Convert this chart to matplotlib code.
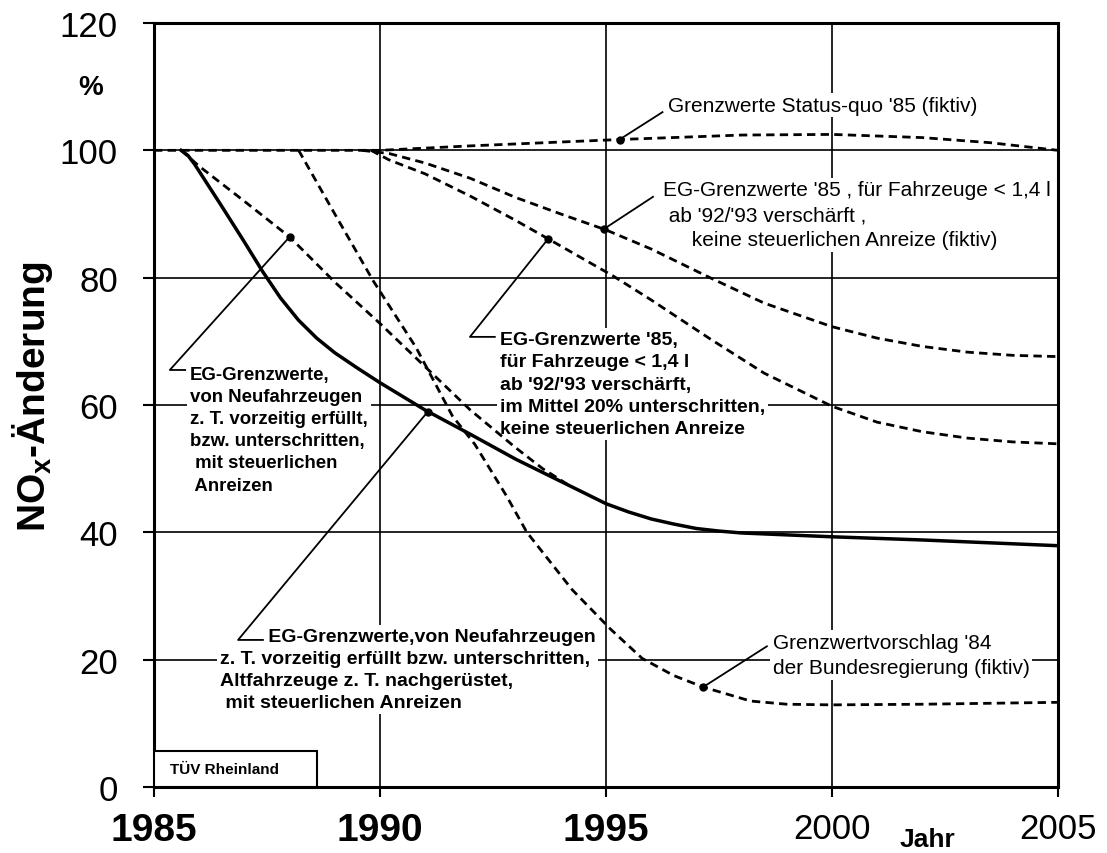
import numpy as np
import matplotlib
matplotlib.use('Agg')
import matplotlib.pyplot as plt
from matplotlib.patches import Rectangle

plt.rcParams['font.family'] = ['Liberation Sans', 'DejaVu Sans']
plt.rcParams['mathtext.fontset'] = 'custom'
plt.rcParams['mathtext.bf'] = 'Liberation Sans:bold'
plt.rcParams['mathtext.rm'] = 'Liberation Sans'

# values (year, NOx change in %)
solid_x = [1985.6, 1985.75, 1985.9, 1986.2, 1986.5, 1987.0, 1987.4, 1987.8, 1988.2, 1988.6,
           1989.0, 1989.5, 1990.0, 1991.0, 1992.0, 1993.0, 1994.0, 1995.0, 1995.5, 1996.0,
           1996.5, 1997.0, 1997.5, 1998.0, 2000.0, 2002.0, 2005.0]
solid_y = [100, 99.2, 97.8, 94.5, 91.2, 85.6, 81, 76.8, 73.3, 70.5,
           68.2, 65.8, 63.5, 59.2, 55.4, 51.5, 48, 44.5, 43.2, 42.1,
           41.3, 40.6, 40.2, 39.9, 39.3, 38.8, 37.9]

neu_x = [1985.6, 1986.0, 1987.0, 1988.0, 1989.0, 1990.0, 1991.0, 1992.0, 1993.0, 1993.6, 1994.2]
neu_y = [100, 97.5, 92, 86.4, 79.3, 72.8, 66, 59.2, 53.3, 50, 47.3]

vorschlag_x = [1988.2, 1989.0, 1989.85, 1990.8, 1991.6, 1992.1, 1992.8, 1993.25, 1994.25, 1995.1,
               1995.8, 1996.5, 1997.15, 1998.2, 1999.0, 2000.0, 2002.0, 2005.0]
vorschlag_y = [100, 90, 79.5, 69, 58.3, 53.8, 45.7, 40, 31, 24.8,
               20.2, 17.5, 15.7, 13.5, 13.0, 12.9, 13.0, 13.3]

mittel_x = [1989.8, 1990.2, 1991.0, 1992.0, 1993.0, 1993.72, 1995.15, 1996.0, 1997.3, 1998.5,
            2000.0, 2001.0, 2002.0, 2003.0, 2004.0, 2005.0]
mittel_y = [100, 98.5, 96.3, 92.8, 89, 86.1, 80.3, 76.5, 70.4, 65,
            59.8, 57.3, 55.8, 54.8, 54.2, 53.9]

keine_x = [1989.6, 1990.2, 1991.0, 1992.0, 1993.0, 1994.0, 1995.0, 1996.0, 1997.3, 1998.5,
           2000.0, 2001.0, 2002.0, 2003.0, 2004.0, 2005.0]
keine_y = [100, 99.5, 98, 95.6, 92.6, 90, 87.5, 84.5, 80, 76,
           72.3, 70.5, 69.2, 68.3, 67.8, 67.6]

status_x = [1985.0, 1990.0, 1992.0, 1995.3, 1998.0, 2000.0, 2002.0, 2003.5, 2004.5, 2005.0]
status_y = [100, 100, 100.7, 101.7, 102.4, 102.5, 102.0, 101.2, 100.4, 100]

year_ticks = [1985, 1990, 1995, 2000, 2005]
pct_ticks = [0, 20, 40, 60, 80, 100, 120]

fig = plt.figure(figsize=(11.07, 8.54), dpi=100)
ax = fig.add_axes([154/1107, 1-788/854, 904/1107, 764/854])
ax.set_xlim(1985, 2005)
ax.set_ylim(0, 120)

for s in ax.spines.values():
  s.set_linewidth(2.2)

ax.set_xticks(year_ticks)
ax.set_yticks(pct_ticks)
ax.tick_params(axis='y', direction='out', length=8, width=1.5, pad=18, labelsize=25)
ax.tick_params(axis='x', direction='out', length=7, width=1.5, pad=11, labelsize=25)
ax.set_xticklabels([str(y) for y in year_ticks])
for lab in ax.get_xticklabels():
  if int(lab.get_text()) < 2000:
    lab.set_fontweight('bold')
    lab.set_fontsize(28)
ax.grid(True, color='black', linewidth=1.2)
ax.set_axisbelow(True)

dash = dict(color='black', linewidth=2.0, linestyle=(0, (3.0, 1.9)), zorder=4)
ax.plot(status_x, status_y, **dash)
ax.plot(keine_x, keine_y, **dash)
ax.plot(mittel_x, mittel_y, **dash)
ax.plot(vorschlag_x, vorschlag_y, **dash)
ax.plot(neu_x, neu_y, **dash)
ax.plot(solid_x, solid_y, color='black', linewidth=2.5, zorder=4)

# axis labels
fig.text(33/1107, 1-397/854, r'NO$_{\mathbf{x}}$-Änderung', rotation=90, fontsize=28,
         fontweight='bold', ha='center', va='center')
fig.text(91/1107, 1-88/854, '%', fontsize=20, fontweight='bold', ha='center', va='center')
fig.text(927/1107, 1-840/854, 'Jahr', fontsize=19, fontweight='bold', ha='center', va='center')

box = dict(facecolor='white', edgecolor='none', pad=2)

def note(x, y, text, weight, size):
  ax.text(x, y, text, fontsize=size, fontweight=weight, ha='left', va='top',
          linespacing=1.4, bbox=box, zorder=3)

def leader(curve_x, curve_y, at, pts):
  y0 = np.interp(at, curve_x, curve_y)
  xs = [at] + [p[0] for p in pts]
  ys = [y0] + [p[1] for p in pts]
  ax.plot(xs, ys, color='black', linewidth=1.3, zorder=5)
  ax.plot([at], [y0], 'o', color='black', markersize=5, zorder=6)

note(1996.37, 108.6, "Grenzwerte Status-quo '85 (fiktiv)", 'normal', 15)
leader(status_x, status_y, 1995.3, [(1996.25, 106.0)])

note(1996.26, 95.3, "EG-Grenzwerte '85 , für Fahrzeuge < 1,4 l\n"
     " ab '92/'93 verschärft ,\n"
     "     keine steuerlichen Anreize (fiktiv)", 'normal', 15)
leader(keine_x, keine_y, 1994.95, [(1996.04, 92.7)])

note(1992.65, 71.6, "EG-Grenzwerte '85,\n"
     "für Fahrzeuge < 1,4 l\n"
     "ab '92/'93 verschärft,\n"
     "im Mittel 20% unterschritten,\n"
     "keine steuerlichen Anreize", 'bold', 14)
leader(mittel_x, mittel_y, 1993.72, [(1991.99, 70.7), (1992.54, 70.7)])

note(1985.80, 66.2, "EG-Grenzwerte,\n"
     "von Neufahrzeugen\n"
     "z. T. vorzeitig erfüllt,\n"
     "bzw. unterschritten,\n"
     " mit steuerlichen\n"
     " Anreizen", 'bold', 13.4)
leader(neu_x, neu_y, 1988.0, [(1985.35, 65.5), (1985.69, 65.5)])

note(1986.46, 25.0, "         EG-Grenzwerte,von Neufahrzeugen\n"
     "z. T. vorzeitig erfüllt bzw. unterschritten,\n"
     "Altfahrzeuge z. T. nachgerüstet,\n"
     " mit steuerlichen Anreizen", 'bold', 14)
leader(solid_x, solid_y, 1991.06, [(1986.86, 23.1), (1987.41, 23.1)])

note(1998.69, 24.2, "Grenzwertvorschlag '84\n"
     "der Bundesregierung (fiktiv)", 'normal', 15)
leader(vorschlag_x, vorschlag_y, 1997.15, [(1998.56, 22.1)])

ax.add_patch(Rectangle((1985, 0), 3.6, 5.6, facecolor='white', edgecolor='black',
                       linewidth=1.5, zorder=5))
ax.text(1985.35, 2.8, 'TÜV Rheinland', fontsize=11, fontweight='bold',
        ha='left', va='center', zorder=6)

fig.savefig('out.png', dpi=100)
